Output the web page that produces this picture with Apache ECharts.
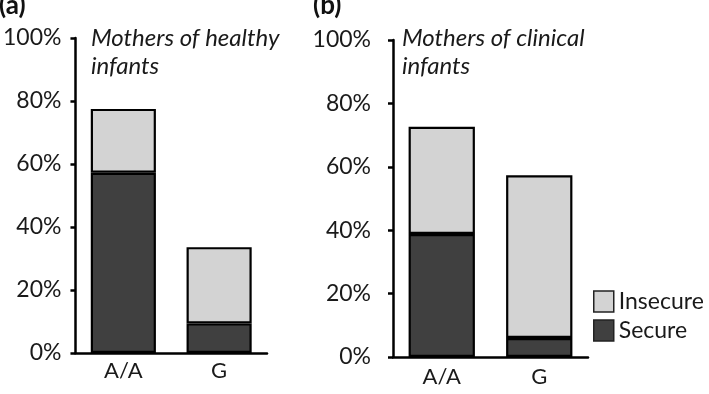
<!DOCTYPE html>
<html>
<head>
<meta charset="utf-8">
<script src="https://cdn.jsdelivr.net/npm/echarts@6/dist/echarts.min.js"></script>
<style>
  html, body { margin: 0; padding: 0; background: #fff; }
  #chart { width: 709px; height: 394px; }
</style>
</head>
<body>
<div id="chart"></div>
<script>
// values (percent of mothers)
const categories = ['A/A', 'G'];
const healthySecure = [57.2, 9.4];
const healthyInsecure = [20.3, 24.2];
const clinicalSecure = [38.8, 6.0];
const clinicalInsecure = [33.8, 51.3];
const yTicks = [0, 20, 40, 60, 80, 100];

const FONT = 'Lato, "Open Sans", sans-serif';
const DARK = '#404040';
const LIGHT = '#d3d3d3';
const INK = '#1a1a1a';

const chart = echarts.init(document.getElementById('chart'));

function yAxis(gridIndex, margin) {
  return {
    type: 'value',
    gridIndex,
    min: yTicks[0],
    max: yTicks[yTicks.length - 1],
    interval: yTicks[1] - yTicks[0],
    splitLine: { show: false },
    axisLine: { show: true, lineStyle: { color: '#000', width: 2.5 } },
    axisTick: { show: true, length: 5, lineStyle: { color: '#000', width: 2.5 } },
    axisLabel: { formatter: '{value}%', margin, color: INK, fontFamily: FONT, fontSize: 23 },
  };
}

function xAxis(gridIndex, margin) {
  return {
    type: 'category',
    gridIndex,
    data: categories,
    axisLine: { lineStyle: { color: '#000', width: 2.5 } },
    axisTick: { show: false },
    axisLabel: { margin, color: INK, fontFamily: FONT, fontSize: 22 },
  };
}

function bar(name, data, idx, stack, color) {
  return {
    name,
    type: 'bar',
    stack,
    xAxisIndex: idx,
    yAxisIndex: idx,
    data,
    barWidth: '68%',
    itemStyle: { color, borderColor: '#000', borderWidth: 2.2 },
  };
}

const titleStyle = { fontFamily: FONT, fontSize: 24, fontStyle: 'italic', fontWeight: 'normal', color: INK, lineHeight: 28 };
const panelStyle = { fontFamily: FONT, fontSize: 26, fontWeight: 'bold', color: '#111' };

const option = {
  animation: false,
  title: [
    { text: '(a)', left: -1, top: -7, padding: 0, textStyle: panelStyle },
    { text: '(b)', left: 313, top: -7, padding: 0, textStyle: panelStyle },
    { text: 'Mothers of healthy\ninfants', left: 91, top: 24, padding: 0, textStyle: titleStyle },
    { text: 'Mothers of clinical\ninfants', left: 402, top: 24, padding: 0, textStyle: titleStyle },
  ],
  legend: {
    data: ['Insecure', 'Secure'],
    orient: 'vertical',
    left: 593,
    top: 290,
    itemWidth: 20,
    itemHeight: 21,
    itemGap: 6,
    itemTextGap: 6,
    padding: 0,
    icon: 'rect',
    itemStyle: { borderColor: '#222', borderWidth: 1.5 },
    textStyle: { fontFamily: FONT, fontSize: 23, color: INK },
  },
  grid: [
    { left: 70, top: 38, width: 197, height: 315 },
    { left: 393, top: 40, width: 195, height: 317 },
  ],
  xAxis: [xAxis(0, 7), xAxis(1, 9)],
  yAxis: [yAxis(0, 14), yAxis(1, 22)],
  series: [
    bar('Secure', healthySecure, 0, 'a', DARK),
    bar('Insecure', healthyInsecure, 0, 'a', LIGHT),
    bar('Secure', clinicalSecure, 1, 'b', DARK),
    bar('Insecure', clinicalInsecure, 1, 'b', LIGHT),
  ],
};

chart.setOption(option);
window.addEventListener('resize', () => chart.resize());
</script>
</body>
</html>
